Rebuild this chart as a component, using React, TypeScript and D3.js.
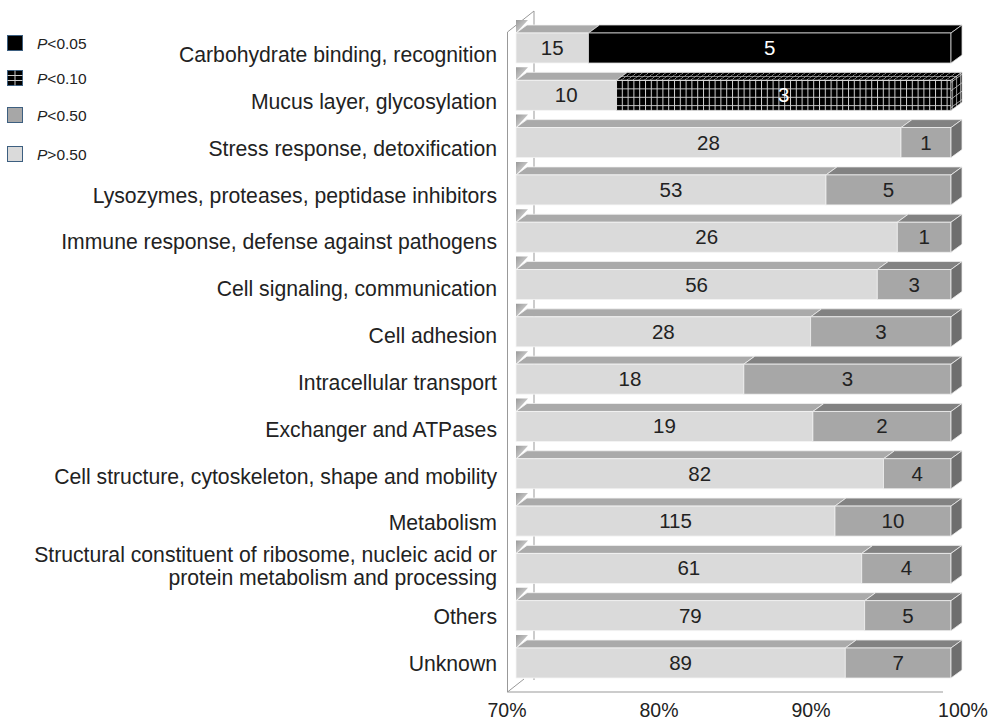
import React from "react";
import { scaleLinear, scalePoint } from "d3";

const categories = [
  "Carbohydrate binding, recognition",
  "Mucus layer, glycosylation",
  "Stress response, detoxification",
  "Lysozymes, proteases, peptidase inhibitors",
  "Immune response, defense against pathogens",
  "Cell signaling, communication",
  "Cell adhesion",
  "Intracellular transport",
  "Exchanger and ATPases",
  "Cell structure, cytoskeleton, shape and mobility",
  "Metabolism",
  "Structural constituent of ribosome, nucleic acid or|protein metabolism and processing",
  "Others",
  "Unknown",
];
const countsHigh = [15, 10, 28, 53, 26, 56, 28, 18, 19, 82, 115, 61, 79, 89]; // P>0.50
const countsLow = [5, 3, 1, 5, 1, 3, 3, 3, 2, 4, 10, 4, 5, 7];
const lowClass = ["p05", "p10", "p50", "p50", "p50", "p50", "p50", "p50", "p50", "p50", "p50", "p50", "p50", "p50"];
const xTicks = [0.7, 0.8, 0.9, 1.0];
const legendItems = [
  { key: "p05", sym: "<", val: "0.05" },
  { key: "p10", sym: "<", val: "0.10" },
  { key: "p50", sym: "<", val: "0.50" },
  { key: "p99", sym: ">", val: "0.50" },
];

const W = 989;
const H = 721;
const DX = 11;
const DY = 8;
const BAR_H = 30;
const FONT = "'Liberation Sans', Arial, sans-serif";

const styles: Record<string, { front: string; top: string; side: string; text: string; stroke: string }> = {
  p05: { front: "#000", top: "#000", side: "#000", text: "#fff", stroke: "#d8d8d8" },
  p10: { front: "url(#gridF)", top: "url(#gridT)", side: "url(#gridS)", text: "#fff", stroke: "#d8d8d8" },
  p50: { front: "#a7a7a7", top: "#828282", side: "#6e6e6e", text: "#222", stroke: "#eeeeee" },
  p99: { front: "#dadada", top: "#aaaaaa", side: "#aaaaaa", text: "#222", stroke: "#f4f4f4" },
};

export default function App() {
  const x = scaleLinear().domain([0.7, 1]).range([516, 951]);
  const xLab = scaleLinear().domain([0.7, 1]).range([507, 963]);
  const y = scalePoint<string>().domain(categories).range([33, 648]);
  const yLab = scalePoint<string>().domain(categories).range([55, 664]);

  const wallX = 507.5;
  const backX = 534;
  const floorY = 692;

  const face = (x0: number, x1: number, y0: number, s: any, key: string, showSide: boolean) => (
    <g key={key}>
      <polygon
        points={`${x0},${y0} ${x0 + DX},${y0 - DY} ${x1 + DX},${y0 - DY} ${x1},${y0}`}
        fill={s.top}
        stroke={s.stroke}
        strokeWidth={0.8}
      />
      <rect x={x0} y={y0} width={x1 - x0} height={BAR_H} fill={s.front} stroke={s.stroke} strokeWidth={0.8} />
      {showSide && (
        <polygon
          points={`${x1},${y0} ${x1 + DX},${y0 - DY} ${x1 + DX},${y0 - DY + BAR_H} ${x1},${y0 + BAR_H}`}
          fill={s.side}
          stroke={s.stroke}
          strokeWidth={0.8}
        />
      )}
    </g>
  );

  return (
    <svg width={W} height={H} style={{ position: "absolute", left: 0, top: 0, background: "#fff" }} fontFamily={FONT}>
      <defs>
        <pattern id="gridF" width={5.8} height={8.4} patternUnits="userSpaceOnUse" x={616} y={80}>
          <rect width={5.8} height={8.4} fill="#000" />
          <path d="M0.5 0V8.4M0 0.5H5.8" stroke="#cfcfcf" strokeWidth={1} />
        </pattern>
        <pattern id="gridT" width={5.8} height={4} patternUnits="userSpaceOnUse" patternTransform="skewX(-54)">
          <rect width={5.8} height={4} fill="#000" />
          <path d="M0.5 0V4M0 0.5H5.8" stroke="#bbbbbb" strokeWidth={0.8} />
        </pattern>
        <pattern id="gridS" width={4} height={8.4} patternUnits="userSpaceOnUse" patternTransform="skewY(-36)">
          <rect width={4} height={8.4} fill="#000" />
          <path d="M0.5 0V8.4M0 0.5H4" stroke="#bbbbbb" strokeWidth={0.8} />
        </pattern>
        <linearGradient id="shade" x1="0" y1="0" x2="1" y2="1">
          <stop offset="0" stopColor="#9a9a9a" />
          <stop offset="1" stopColor="#e8e8e8" />
        </linearGradient>
      </defs>

      {/* walls */}
      <line x1={backX} y1={11} x2={backX} y2={680} stroke="#999" strokeWidth={1} />
      <line x1={wallX} y1={32} x2={backX} y2={11} stroke="#999" strokeWidth={1} />
      <line x1={wallX} y1={32} x2={wallX} y2={floorY} stroke="#999" strokeWidth={1} />
      <line x1={wallX} y1={floorY} x2={524} y2={679} stroke="#999" strokeWidth={1} />
      <line x1={wallX} y1={floorY} x2={943} y2={floorY} stroke="#999" strokeWidth={1} />

      {/* bars */}
      {categories.map((c, i) => {
        const total = countsHigh[i] + countsLow[i];
        const split = countsHigh[i] / total;
        const y0 = y(c) as number;
        const xa = x(0.7);
        const xb = x(split);
        const xc = x(1);
        const sLow = styles[lowClass[i]];
        const sHigh = styles.p99;
        return (
          <g key={c}>
            <polygon
              points={`${xa},${y0} ${xa},${y0 - 13} ${xa + DX + 1},${y0 - 13}`}
              fill="url(#shade)"
            />
            {face(xa, xb, y0, sHigh, "h", false)}
            {face(xb, xc, y0, sLow, "l", true)}
            <text x={(xa + xb) / 2} y={y0 + BAR_H / 2 + 7} textAnchor="middle" fontSize={20.5} fill={sHigh.text}>
              {countsHigh[i]}
            </text>
            <text x={(xb + xc) / 2} y={y0 + BAR_H / 2 + 7} textAnchor="middle" fontSize={20.5} fill={sLow.text}>
              {countsLow[i]}
            </text>
          </g>
        );
      })}

      {/* category labels */}
      {categories.map((c) => {
        const lines = c.split("|");
        const cy = (yLab(c) as number) - (lines.length > 1 ? 4 : 0);
        return (
          <text key={c} x={497} textAnchor="end" fontSize={21.2} fill="#222">
            {lines.map((l, j) => (
              <tspan key={j} x={497} y={cy + 7 + (j - (lines.length - 1) / 2) * 23}>
                {l}
              </tspan>
            ))}
          </text>
        );
      })}

      {/* x axis labels */}
      {xTicks.map((t) => (
        <text key={t} x={xLab(t)} y={717} textAnchor="middle" fontSize={19.5} fill="#222">
          {Math.round(t * 100)}%
        </text>
      ))}

      {/* legend */}
      {legendItems.map((d, i) => {
        const ly = [43, 78, 115, 154][i];
        const s = styles[d.key];
        return (
          <g key={d.key}>
            {d.key === "p10" ? (
              <g>
                <rect x={7.5} y={ly - 7.5} width={15} height={15} fill="#000" stroke="#3d5f80" strokeWidth={1} />
                <path d={`M15 ${ly - 7.5}V${ly + 7.5}M7.5 ${ly - 2.5}H22.5M7.5 ${ly + 2.5}H22.5`} stroke="#ccc" strokeWidth={1} />
              </g>
            ) : (
              <rect x={7.5} y={ly - 7.5} width={15} height={15} fill={s.front} stroke="#3d5f80" strokeWidth={1} />
            )}
            <text x={37} y={ly + 5.5} fontSize={15.5} fill="#222">
              <tspan fontStyle="italic">P</tspan>
              {d.sym}
              {d.val}
            </text>
          </g>
        );
      })}
    </svg>
  );
}
